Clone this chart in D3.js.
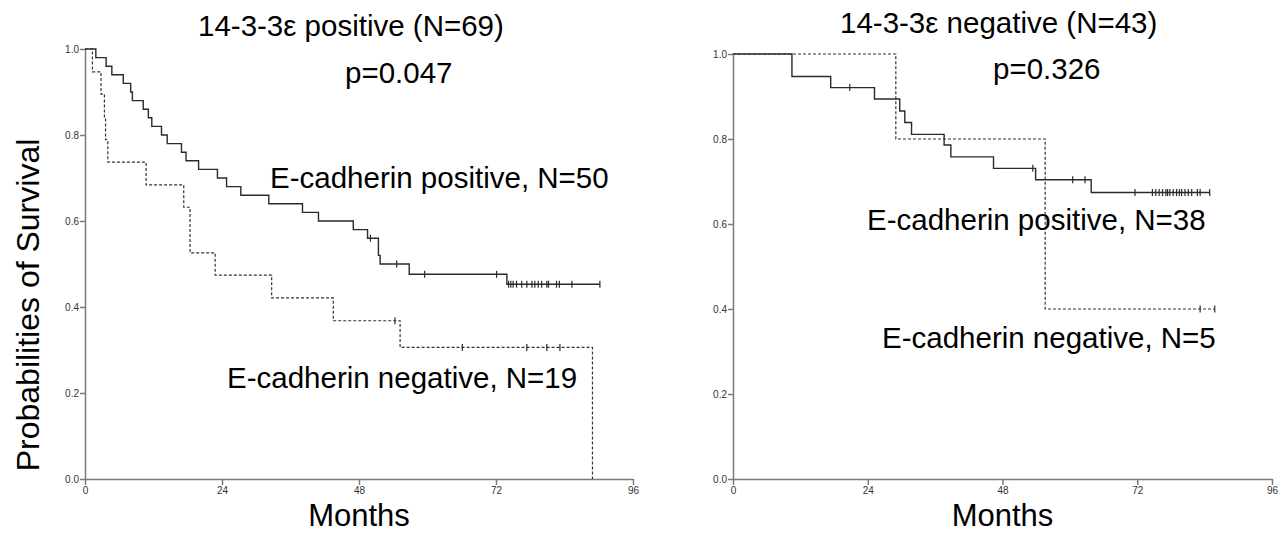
<!DOCTYPE html>
<html>
<head>
<meta charset="utf-8">
<script src="https://cdn.jsdelivr.net/npm/d3@7"></script>
<style>
  body { margin: 0; background: #fff; }
  svg text { font-family: "Liberation Sans", Arial, sans-serif; }
  .tick text { font-size: 10px; fill: #333; }
  .axis path, .axis line { stroke: #7a7a7a; stroke-width: 1.5; }
</style>
</head>
<body>
<div id="chart"></div>
<script>
// axis ticks
const monthTicks = [0, 24, 48, 72, 96];
const survTicks = [0, 0.2, 0.4, 0.6, 0.8, 1.0];

// left panel: 14-3-3e positive, [month, survival] after each drop
const leftPosSteps = [[0, 1], [1.9, 0.98], [3.7, 0.96], [4.7, 0.94], [6.7, 0.92], [8.0, 0.90], [8.3, 0.88],
  [10.2, 0.86], [11.1, 0.84], [11.7, 0.82], [13.4, 0.80], [14.4, 0.78], [16.9, 0.76], [17.7, 0.74],
  [19.9, 0.72], [23.2, 0.70], [24.8, 0.68], [27.3, 0.66], [32.2, 0.64], [38.1, 0.62], [40.9, 0.60],
  [47.0, 0.58], [49.5, 0.56], [51.4, 0.52], [51.7, 0.50], [56.8, 0.476], [73.9, 0.453]];
const leftPosEnd = 90.2;
const leftPosCensor = [50.0, 54.6, 59.5, 72.1, 74.2, 74.6, 75.0, 75.6, 76.5, 77.4, 78.3, 78.8, 79.4,
  80.0, 80.9, 81.2, 82.6, 83.1, 85.3, 90.2];

const leftNegSteps = [[0, 1], [1.3, 0.947], [2.8, 0.895], [3.4, 0.842], [3.6, 0.789], [4.0, 0.737],
  [10.7, 0.684], [17.3, 0.632], [18.4, 0.526], [22.8, 0.474], [32.7, 0.421], [43.5, 0.368],
  [55.2, 0.306], [88.9, 0.0]];
const leftNegEnd = 88.9;
const leftNegCensor = [54.3, 66.1, 77.4, 80.9, 83.2];

// right panel: 14-3-3e negative
const rightPosSteps = [[0, 1], [10.5, 0.947], [17.4, 0.921], [25.2, 0.894], [29.7, 0.866], [30.6, 0.839],
  [31.8, 0.811], [37.6, 0.786], [38.8, 0.758], [46.4, 0.731], [53.9, 0.704], [63.8, 0.674]];
const rightPosEnd = 84.9;
const rightPosCensor = [20.8, 53.4, 60.5, 62.7, 71.6, 74.7, 75.3, 75.9, 76.5, 77.1, 77.4, 77.8, 78.4,
  79.0, 79.5, 79.9, 80.5, 81.1, 81.7, 82.7, 83.2, 84.9];

const rightNegSteps = [[0, 1], [29.0, 0.80], [55.6, 0.40]];
const rightNegEnd = 85.8;
const rightNegCensor = [83.2, 85.8];

const panels = [
  {x0: 85, x1: 633, y0: 479, y1: 49, title: "14-3-3\u03b5 positive (N=69)", tx: 198, ty: 36,
   p: "p=0.047", px: 345, py: 83,
   posLabel: "E-cadherin positive, N=50", plx: 270, ply: 188,
   negLabel: "E-cadherin negative, N=19", nlx: 227, nly: 388,
   pos: [leftPosSteps, leftPosEnd, leftPosCensor], neg: [leftNegSteps, leftNegEnd, leftNegCensor]},
  {x0: 733, x1: 1272, y0: 479, y1: 54, title: "14-3-3\u03b5 negative (N=43)", tx: 840, ty: 33,
   p: "p=0.326", px: 993, py: 79,
   posLabel: "E-cadherin positive, N=38", plx: 867, ply: 230,
   negLabel: "E-cadherin negative, N=5", nlx: 882, nly: 348,
   pos: [rightPosSteps, rightPosEnd, rightPosCensor], neg: [rightNegSteps, rightNegEnd, rightNegCensor]}
];

const svg = d3.select("#chart").append("svg")
    .attr("width", 1284)
    .attr("height", 535);

// survival value at time t
function survAt(steps, t) {
    let v = 1;
    steps.forEach(s => { if (s[0] <= t) v = s[1]; });
    return v;
}

panels.forEach(p => {
    const x = d3.scaleLinear().domain([0, 96]).range([p.x0, p.x1]);
    const y = d3.scaleLinear().domain([0, 1]).range([p.y0, p.y1]);

    svg.append("g")
        .attr("class", "axis")
        .attr("transform", `translate(0,${p.y0})`)
        .call(d3.axisBottom(x).tickValues(monthTicks).tickSize(6).tickSizeOuter(0).tickPadding(2));

    svg.append("g")
        .attr("class", "axis")
        .attr("transform", `translate(${p.x0},0)`)
        .call(d3.axisLeft(y).tickValues(survTicks).tickSize(5).tickSizeOuter(0).tickPadding(1)
            .tickFormat(d3.format(".1f")));

    const line = d3.line()
        .x(d => x(d[0]))
        .y(d => y(d[1]))
        .curve(d3.curveStepAfter);

    [[p.pos, "solid"], [p.neg, "dash"]].forEach(([c, kind]) => {
        const [steps, end, censor] = c;
        const pts = steps.slice();
        if (pts[pts.length - 1][0] < end) pts.push([end, pts[pts.length - 1][1]]);
        svg.append("path")
            .datum(pts)
            .attr("d", line)
            .attr("fill", "none")
            .attr("stroke", kind === "solid" ? "#2a2a2a" : "#333")
            .attr("stroke-width", kind === "solid" ? 1.4 : 1.2)
            .attr("stroke-dasharray", kind === "solid" ? null : "3,2");

        svg.selectAll(null)
            .data(censor)
            .enter().append("line")
            .attr("x1", d => x(d)).attr("x2", d => x(d))
            .attr("y1", d => y(survAt(steps, d)) - 3.5)
            .attr("y2", d => y(survAt(steps, d)) + 3.5)
            .attr("stroke", "#2a2a2a")
            .attr("stroke-width", 1.2);
    });

    // texts
    const big = (txt, tx, ty) => svg.append("text")
        .attr("x", tx).attr("y", ty)
        .attr("font-size", 29.5)
        .attr("fill", "#000")
        .text(txt);
    big(p.title, p.tx, p.ty);
    big(p.p, p.px, p.py);
    big(p.posLabel, p.plx, p.ply);
    big(p.negLabel, p.nlx, p.nly);

    svg.append("text")
        .attr("x", (p.x0 + p.x1) / 2)
        .attr("y", 526)
        .attr("text-anchor", "middle")
        .attr("font-size", 31)
        .text("Months");
});

svg.append("text")
    .attr("transform", "translate(39,305) rotate(-90)")
    .attr("text-anchor", "middle")
    .attr("font-size", 32)
    .text("Probabilities of Survival");
</script>
</body>
</html>
